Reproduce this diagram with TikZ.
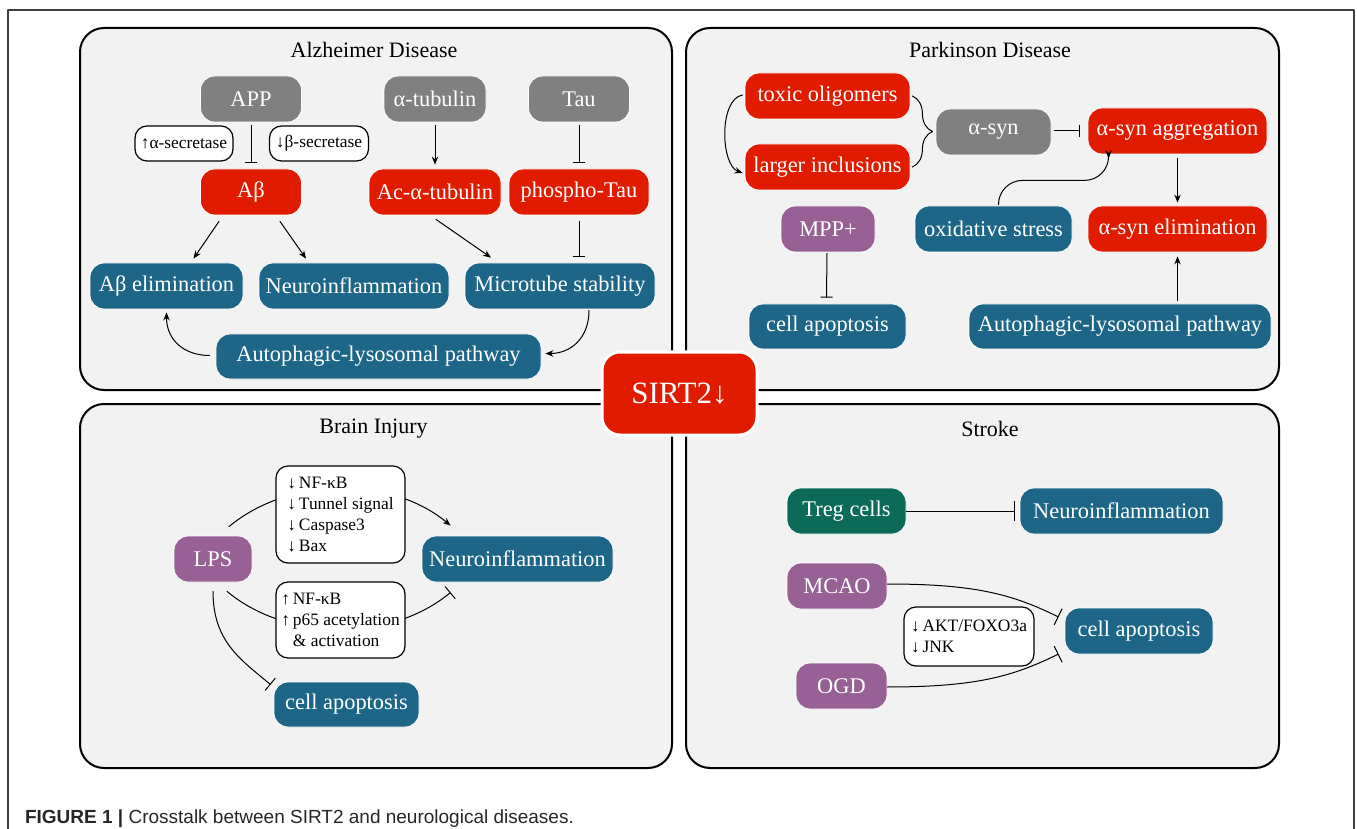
\documentclass[tikz,border=0pt]{standalone}
\usepackage{fontspec}
\setmainfont{Liberation Serif}
\newfontfamily\capfont{Liberation Sans}
\usetikzlibrary{arrows.meta,calc,decorations.pathreplacing}
\begin{document}
\begin{tikzpicture}[x=.5pt,y=-.5pt,line join=round,line cap=round,>={Stealth[length=4pt,width=3.2pt]},font=\fontsize{11.2}{13}\selectfont]
    \definecolor{sirtred}{RGB}{224,27,0}
    \definecolor{protgray}{RGB}{128,128,128}
    \definecolor{effblue}{RGB}{30,102,136}
    \definecolor{stimpurple}{RGB}{152,97,150}
    \definecolor{tregteal}{RGB}{12,107,88}
    \definecolor{panelgray}{RGB}{242,242,242}
    \tikzset{
        panel/.style={draw=black,line width=1pt,fill=panelgray,rounded corners=12pt},
        ptitle/.style={font=\fontsize{11}{13}\selectfont},
        box/.style={rounded corners=7pt,text=white,minimum height=23pt,inner sep=0pt,draw=white,line width=.4pt},
        redbox/.style={box,fill=sirtred},
        graybox/.style={box,fill=protgray},
        bluebox/.style={box,fill=effblue},
        purplebox/.style={box,fill=stimpurple},
        tealbox/.style={box,fill=tregteal},
        note/.style={draw=black,fill=white,rounded corners=6pt,line width=.6pt,align=left,inner sep=0pt,font=\fontsize{8.7}{10.5}\selectfont},
        link/.style={line width=.5pt},
        act/.style={link,->},
        inh/.style={link,-{Bar[width=6pt]}},
    }
    \useasboundingbox (0,0) rectangle (1357,829);
    \draw[line width=.6pt,black!75] (8,829)--(8,10)--(1354,10)--(1354,829);
    
    \draw[panel] (80,28) rectangle (672,390);
    \draw[panel] (686,28) rectangle (1279,390);
    \draw[panel] (80,404) rectangle (672,768);
    \draw[panel] (686,404) rectangle (1279,768);
    \node[ptitle] (tAD) at (374,50) {Alzheimer Disease};
    \node[ptitle] (tPD) at (990,50) {Parkinson Disease};
    \node[ptitle] (tBI) at (373.5,429) {Brain Injury};
    \node[ptitle] (tST) at (990,429) {Stroke};
    %===============================
    % Alzheimer
    \node[graybox,minimum width=50.5pt] (app) at (251,99) {APP};
    \node[graybox,minimum width=51pt] (atub) at (435,99) {α-tubulin};
    \node[graybox,minimum width=50.5pt] (tau) at (579,99) {Tau};
    \node[note,minimum width=49pt,minimum height=17.5pt] (asec) at (184,143.5) {↑α-secretase};
    \node[note,minimum width=49.5pt,minimum height=17.5pt] (bsec) at (319,143.5) {↓β-secretase};
    \node[redbox,minimum width=50.5pt] (abeta) at (251,192) {Aβ};
    \node[redbox,minimum width=66pt] (actub) at (435,192) {Ac-α-tubulin};
    \node[redbox,minimum width=70pt] (ptau) at (579,192) {phospho-Tau};
    \node[bluebox,minimum width=76.5pt] (aelim) at (166.5,286) {Aβ elimination};
    \node[bluebox,minimum width=95pt] (neuroA) at (354,286) {Neuroinflammation};
    \node[bluebox,minimum width=95pt] (micro) at (560,286) {Microtube stability};
    \node[bluebox,minimum width=162.5pt,minimum height=22.5pt] (autoA) at (378.5,356.5) {Autophagic-lysosomal pathway};
    
    \draw[inh] ($(app.south)+(0,3)$)--($(abeta.north)+(0,-6)$);
    \draw[act] ($(atub.south)+(0,3)$)--($(actub.north)+(0,-4)$);
    \draw[inh] ($(tau.south)+(0,3)$)--($(ptau.north)+(0,-6)$);
    \draw[act] ($(abeta.south)+(-32,6)$)--($(aelim.north)+(27,-4)$);
    \draw[act] ($(abeta.south)+(29,6)$)--($(neuroA.north)+(-48,-4)$);
    \draw[act] ($(actub.south)+(1,4)$)--($(micro.north)+(-69,-5)$);
    \draw[inh] ($(ptau.south)+(0,6)$)--($(micro.north)+(19,-6)$);
    \draw[act] ($(autoA.west)+(-6,-1)$) .. controls +(-25,0) and +(0,28) .. ($(aelim.south)+(0,3)$);
    \draw[act] ($(micro.south)+(29,1)$) .. controls +(0,28) and +(25,0) .. ($(autoA.east)+(4,-3)$);
    %===============================
    % Parkinson
    \node[redbox,minimum width=82.5pt] (toxic) at (827.5,96) {toxic oligomers};
    \node[redbox,minimum width=82.5pt] (larger) at (827.5,167) {larger inclusions};
    \node[graybox,minimum width=57.5pt] (asyn) at (993.5,132) {α-syn};
    \node[redbox,minimum width=89.5pt] (agg) at (1177.5,131) {α-syn aggregation};
    \node[purplebox,minimum width=47pt] (mpp) at (828,229) {MPP+};
    \node[bluebox,minimum width=78.5pt] (oxs) at (993.5,229) {oxidative stress};
    \node[redbox,minimum width=89.5pt] (selim) at (1177.5,229) {α-syn elimination};
    \node[bluebox,minimum width=78.5pt,minimum height=22.5pt] (apopP) at (827.5,326.5) {cell apoptosis};
    \node[bluebox,minimum width=151pt,minimum height=22.5pt] (autoP) at (1120,326.5) {Autophagic-lysosomal pathway};
    
    \draw[link,decorate,decoration={brace,amplitude=10pt}] ($(toxic.east)+(2,0)$)--($(larger.east)+(2,0)$);
    \draw[act] ($(toxic.west)+(-2,-1)$) .. controls +(-24,4) and +(-22,-8) .. ($(larger.west)+(-2,6)$);
    \draw[inh] ($(asyn.east)+(3,-1)$)--($(agg.west)+(-8,0)$);
    \draw[act,rounded corners=12pt] ($(oxs.north)+(5,-1)$) |- ($(agg.south west)+(21,26)$)--($(agg.south west)+(21,4)$);
    \draw[act] ($(agg.south)+(0,4)$)--($(selim.north)+(0,-3)$);
    \draw[act] ($(autoP.north)+(57.5,-3)$)--($(selim.south)+(0,4)$);
    \draw[inh] ($(mpp.south)+(-1,1)$)--($(apopP.north)+(-1,-6)$);
    %===============================
    % Brain injury
    \node[purplebox,minimum width=39pt] (lps) at (213,559) {LPS};
    \node[bluebox,minimum width=95.5pt] (neuroB) at (517.5,559) {Neuroinflammation};
    \node[bluebox,minimum width=72.5pt,minimum height=22.5pt] (apopB) at (346.5,704.5) {cell apoptosis};
    
    \draw[act] ($(lps.north)+(16,-9)$) .. controls +(60,-50) and +(-60,-50) .. ($(neuroB.north west)+(29,-10)$);
    \draw[link,-{Bar[width=8pt]}] ($(lps.south)+(14,9)$) .. controls +(60,50) and +(-60,50) .. ($(neuroB.south west)+(29,10)$);
    \draw[link,-{Bar[width=8pt]}] ($(lps.south)+(0,9)$) .. controls +(0,50) and +(-30,-25) .. ($(apopB.north west)+(-3,3)$);
    
    \node[note,minimum width=64.5pt,minimum height=48.5pt] (upnote) at (340.5,514.5) {↓\,NF-κB\\↓\,Tunnel signal\\↓\,Caspase3\\↓\,Bax};
    \node[note,minimum width=64.5pt,minimum height=38pt] (downnote) at (340.5,620) {↑\,NF-κB\\↑\,p65 acetylation\\\phantom{↑\,}\& activation};
    %===============================
    % Stroke
    \node[tealbox,minimum width=59.5pt] (treg) at (846.5,511) {Treg cells};
    \node[bluebox,minimum width=101.5pt] (neuroS) at (1121.5,511) {Neuroinflammation};
    \node[purplebox,minimum width=50pt] (mcao) at (837,586) {MCAO};
    \node[purplebox,minimum width=45.5pt] (ogd) at (841.5,686) {OGD};
    \node[bluebox,minimum width=74pt] (apopS) at (1139,631) {cell apoptosis};
    \node[note,minimum width=65pt,minimum height=29.5pt] (snote) at (969,636.5) {↓\,AKT/FOXO3a\\↓\,JNK};
    
    \draw[link,-{Bar[width=10pt]}] (treg.east)--($(neuroS.west)+(-5,0)$);
    \draw[link,-{Bar[width=9pt]}] ($(mcao.east)+(0,-2)$) .. controls +(90,0) and +(-45,-22) .. ($(apopS.west)+(-6,-14)$);
    \draw[link,-{Bar[width=9pt]}] ($(ogd.east)+(0,1)$) .. controls +(90,0) and +(-45,22) .. ($(apopS.west)+(-6,23)$);
    %===============================
    \node[fill=sirtred,draw=white,line width=1.5pt,rounded corners=9pt,text=white,minimum width=77.5pt,minimum height=41.5pt,font=\fontsize{15.5}{18}\selectfont] (sirt) at (679.5,393.5) {SIRT2↓};
    
    \node[anchor=base west,font=\capfont\fontsize{9.5}{11}\selectfont,text=black!85] (cap) at (18,823) {\textbf{FIGURE 1 |} Crosstalk between SIRT2 and neurological diseases.};
\end{tikzpicture}
\end{document}
